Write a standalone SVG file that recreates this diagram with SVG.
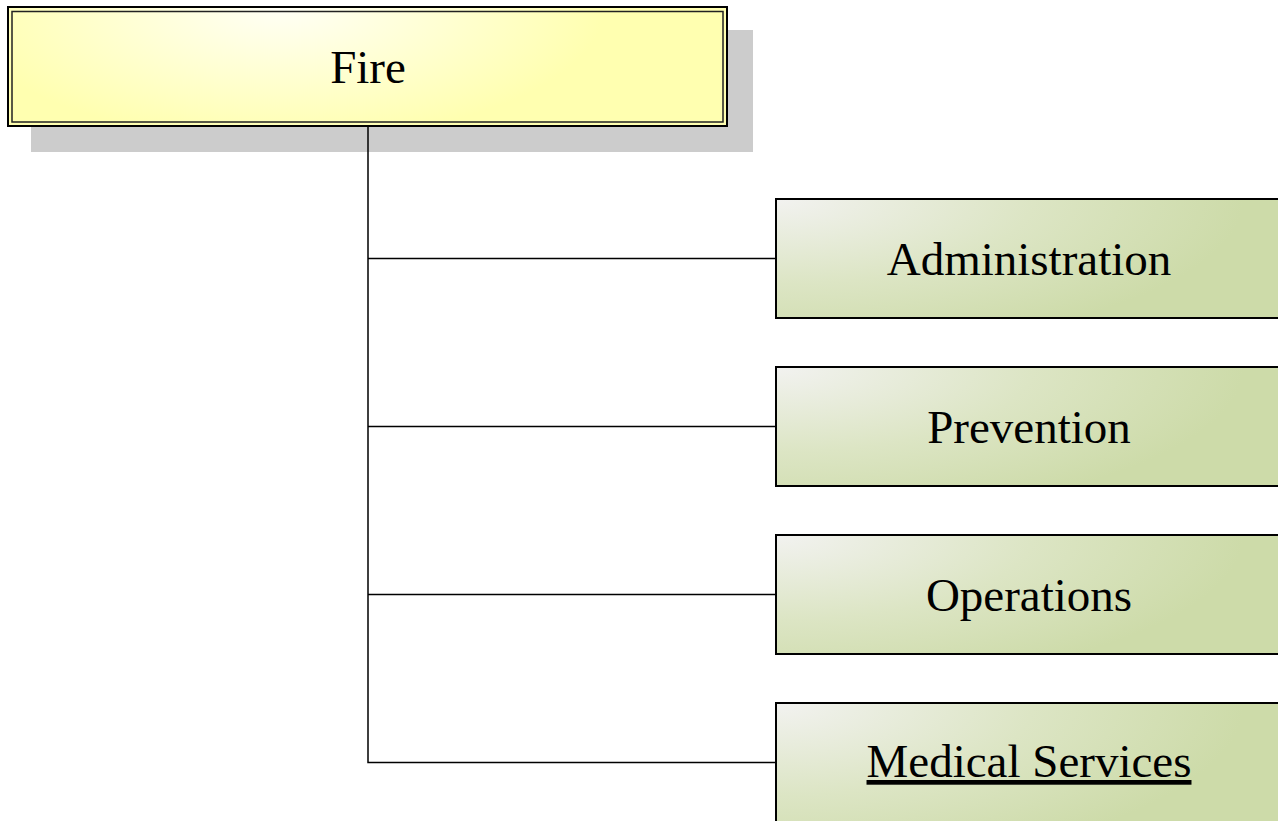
<svg xmlns="http://www.w3.org/2000/svg" width="1278" height="821" viewBox="0 0 1278 821">
<defs>
<radialGradient id="gY" cx="0.38" cy="0" r="0.75" gradientTransform="translate(0.38 0) scale(0.6 1.5) translate(-0.38 0)">
<stop offset="0" stop-color="#fffff6"/>
<stop offset="1" stop-color="#ffffb0"/>
</radialGradient>
<radialGradient id="gG" cx="0" cy="0" r="1" gradientTransform="scale(0.9 1.3)">
<stop offset="0" stop-color="#f2f2f0"/>
<stop offset="0.55" stop-color="#dce5c4"/>
<stop offset="1" stop-color="#cddba9"/>
</radialGradient>
</defs>
<style>
.child{fill:url(#gG);stroke:#000;stroke-width:2}
.lbl{font-family:"Liberation Serif","Times New Roman",serif;font-size:47px;fill:#000;text-anchor:middle}
.conn{stroke:#000;stroke-width:1.5;fill:none}
</style>
<rect width="1278" height="821" fill="#fff"/>
<g id="fire">
<rect x="31" y="30" width="722" height="122" fill="#cccccc"/>
<rect x="8" y="7" width="719" height="119" fill="url(#gY)" stroke="#000" stroke-width="2"/>
<rect x="12" y="11.5" width="711" height="110.5" fill="none" stroke="#222" stroke-width="1.5"/>
<text class="lbl" x="368" y="83">Fire</text>
</g>
<g id="connectors">
<path class="conn" d="M368 127V762.5H776M368 258.5H776M368 426.5H776M368 594.5H776"/>
</g>
<g id="administration">
<rect class="child" x="776" y="199" width="520" height="119"/>
<text class="lbl" x="1029" y="275">Administration</text>
</g>
<g id="prevention">
<rect class="child" x="776" y="367" width="520" height="119"/>
<text class="lbl" x="1029" y="443">Prevention</text>
</g>
<g id="operations">
<rect class="child" x="776" y="535" width="520" height="119"/>
<text class="lbl" x="1029" y="611">Operations</text>
</g>
<g id="medical-services">
<rect class="child" x="776" y="703" width="520" height="130"/>
<text class="lbl" x="1029" y="777" text-decoration="underline">Medical Services</text>
</g>
</svg>
